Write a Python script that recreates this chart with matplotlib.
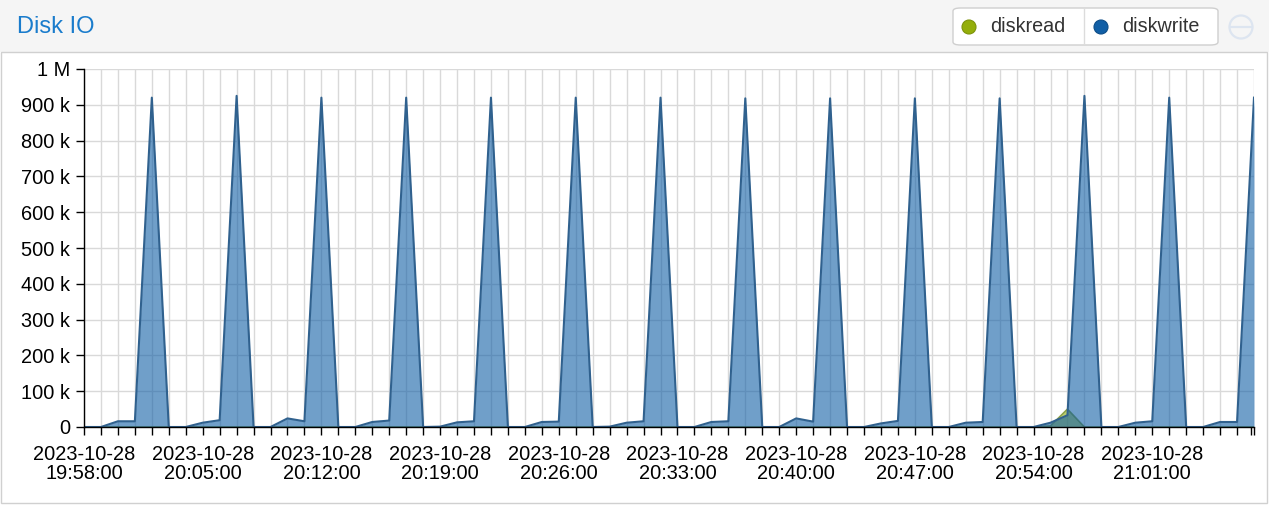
import numpy as np
import matplotlib
matplotlib.use('Agg')
import matplotlib.pyplot as plt
import matplotlib.dates as mdates
from matplotlib.patches import Rectangle, FancyBboxPatch, Circle
import pandas as pd

plt.rcParams['font.family'] = ['Liberation Sans', 'DejaVu Sans']

# --------------- data (one sample per minute) ---------------
start = '2023-10-28 19:58:00'
n_points = 70
diskwrite = [0, 0, 16e3, 16e3, 920e3, 0, 0, 12e3, 19e3, 925e3,
             0, 0, 24e3, 16e3, 920e3, 0, 0, 14e3, 18e3, 920e3,
             0, 1e3, 13e3, 16e3, 920e3, 0, 0, 14e3, 15e3, 920e3,
             0, 1e3, 12e3, 16e3, 920e3, 0, 0, 14e3, 16e3, 918e3,
             0, 0, 24e3, 15e3, 918e3, 0, 0, 10e3, 17e3, 918e3,
             0, 0, 12e3, 14e3, 918e3, 0, 0, 12e3, 33e3, 925e3,
             0, 0, 12e3, 16e3, 920e3, 0, 0, 14e3, 14e3, 920e3]
diskread = [0] * 57 + [3e3, 50e3] + [0] * 11
label_every = 7          # a date label every 7 minutes
view_minutes = 68.8      # visible span of the x axis

yticks = np.arange(0, 1.0e6 + 1, 1e5)

times = pd.date_range(start, periods=n_points, freq='min').to_pydatetime()
x_end = times[0] + pd.Timedelta(minutes=view_minutes)

W, H = 1269, 505


def fx(px):
    return px / W


def fy(py):
    return 1 - py / H


fig = plt.figure(figsize=(W / 100, H / 100), dpi=100)
fig.patch.set_facecolor('white')
inch = fig.dpi_scale_trans  # for round things: coords in px/100 from bottom-left

# panel header + frame
fig.patches.append(Rectangle((fx(0), fy(52)), 1, 52 / H, transform=fig.transFigure,
                             facecolor='#f5f5f5', edgecolor='none', zorder=0))
fig.patches.append(Rectangle((fx(1), fy(503)), fx(1266), 451 / H, transform=fig.transFigure,
                             facecolor='white', edgecolor='#d0d0d0', lw=1, zorder=0))
fig.text(fx(17), fy(27), 'Disk IO', color='#1a7ccc', fontsize=17, va='center', ha='left')

# legend buttons
fig.patches.append(FancyBboxPatch((fx(953), fy(45)), fx(265), 37 / H,
                                  boxstyle='round,pad=0,rounding_size=0.006',
                                  transform=fig.transFigure, facecolor='white',
                                  edgecolor='#cfcfcf', lw=1, zorder=1))
fig.add_artist(plt.Line2D([fx(1084), fx(1084)], [fy(9), fy(44)], transform=fig.transFigure,
                          color='#dcdcdc', lw=1))
for cx, col, ec, lab in [(969, '#94ae0a', '#7d930a', 'diskread'),
                         (1101, '#115fa6', '#0d4d88', 'diskwrite')]:
    fig.patches.append(Circle((cx / 100, (H - 27) / 100), 0.07, transform=inch,
                              facecolor=col, edgecolor=ec, lw=0.8, zorder=2))
    fig.text(fx(cx + 21), fy(27), lab, color='#333333', fontsize=14.2, va='center', ha='left')
fig.patches.append(Circle((1241 / 100, (H - 27) / 100), 0.115, transform=inch,
                          facecolor='none', edgecolor='#dde5f0', lw=1.6, zorder=2))
fig.add_artist(plt.Line2D([fx(1230), fx(1252)], [fy(27), fy(27)], transform=fig.transFigure,
                          color='#dde5f0', lw=1.6))

# --------------- chart ---------------
ax = fig.add_axes([fx(84), fy(427), fx(1254 - 84), (427 - 69) / H])
ax.set_zorder(3)
ax.set_facecolor('none')

ax.fill_between(times, diskread, color='#94ae0a', alpha=0.6, lw=0, zorder=3)
ax.plot(times, diskread, color='#6f8a1a', lw=1.2, alpha=0.8, zorder=3)
ax.fill_between(times, diskwrite, color='#115fa6', alpha=0.6, lw=0, zorder=4)
ax.plot(times, diskwrite, color='#30618e', lw=1.5, zorder=4)

ax.set_xlim(times[0], x_end)
ax.set_ylim(0, 1e6)

ax.set_xticks(times)
ax.set_xticklabels([t.strftime('%Y-%m-%d\n%H:%M:%S') if i % label_every == 0 else ''
                    for i, t in enumerate(times)])
ax.set_xticks([mdates.date2num(x_end)], minor=True)
ax.set_yticks(yticks)
ax.set_yticklabels(['0' if v == 0 else ('1 M' if v >= 1e6 else f'{int(v / 1000)} k') for v in yticks])

ax.tick_params(axis='both', which='both', length=6, width=1, color='black', labelsize=14.4,
               labelcolor='black')
ax.tick_params(axis='x', pad=7)
ax.tick_params(axis='y', pad=4)
for lab in ax.get_xticklabels():
    lab.set_linespacing(1.0)

ax.grid(True, color='#d9d9d9', lw=1, zorder=0)
ax.set_axisbelow(True)
for s in ['top', 'right']:
    ax.spines[s].set_visible(False)
for s in ['left', 'bottom']:
    ax.spines[s].set_color('black')
    ax.spines[s].set_linewidth(1)
    ax.spines[s].set_zorder(5)

fig.savefig('out.png', dpi=100)
